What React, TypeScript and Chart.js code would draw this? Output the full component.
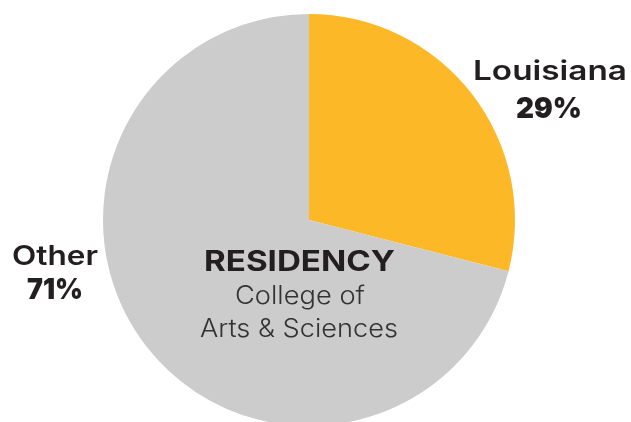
import React, { useEffect, useRef } from 'react';
import { Chart, registerables } from 'chart.js';
Chart.register(...registerables);

const categories = ['Louisiana', 'Other'];
const values = [29, 71];
const sliceColors = ['#FDB827', '#CCCCCC'];
const centerTitle = 'RESIDENCY';
const centerSubtitle = ['College of', 'Arts & Sciences'];

const FONT = 'Inter, "Open Sans", sans-serif';
const INK = '#231F20';

function drawFit(ctx: CanvasRenderingContext2D, text: string, cx: number, y: number, weight: number, size: number, width: number, color: string) {
  ctx.save();
  ctx.font = `${weight} ${size}px ${FONT}`;
  ctx.fillStyle = color;
  ctx.textAlign = 'center';
  ctx.textBaseline = 'alphabetic';
  const w = ctx.measureText(text).width;
  const sx = width / w;
  ctx.translate(cx, y);
  ctx.scale(sx, 1);
  ctx.fillText(text, 0, 0);
  ctx.restore();
}

const labelPlugin = {
  id: 'sliceLabels',
  afterDraw(chart: any) {
    const ctx = chart.ctx as CanvasRenderingContext2D;
    const total = values.reduce((a, b) => a + b, 0);
    const pct = values.map((v) => `${Math.round((v / total) * 100)}%`);
    // Louisiana
    drawFit(ctx, categories[0], 550, 80, 600, 27, 154, INK);
    drawFit(ctx, pct[0], 549, 118, 900, 29, 66, INK);
    // Other
    drawFit(ctx, categories[1], 55, 265, 600, 27, 86, INK);
    drawFit(ctx, pct[1], 55, 299, 900, 29, 56, INK);
    // Center
    drawFit(ctx, centerTitle, 299.5, 271, 700, 28, 191, INK);
    drawFit(ctx, centerSubtitle[0], 300, 304, 300, 25, 130, '#333333');
    drawFit(ctx, centerSubtitle[1], 299, 337, 300, 25, 198, '#333333');
  },
};

export default function App() {
  const ref = useRef<HTMLCanvasElement | null>(null);
  useEffect(() => {
    if (!ref.current) return;
    const chart = new Chart(ref.current, {
      type: 'pie',
      data: {
        labels: categories,
        datasets: [
          {
            data: values,
            backgroundColor: sliceColors,
            borderWidth: 0,
          },
        ],
      },
      options: {
        responsive: false,
        animation: false,
        radius: 206,
        layout: { padding: { left: 0, right: 13, top: 0, bottom: 0 } },
        plugins: {
          legend: { display: false },
          tooltip: { enabled: false },
        },
      },
      plugins: [labelPlugin],
    });
    return () => chart.destroy();
  }, []);
  return (
    <div style={{ position: 'fixed', left: 0, top: 0, width: 631, height: 422, overflow: 'hidden', background: '#fff' }}>
      <canvas ref={ref} width={631} height={440} style={{ display: 'block' }} />
    </div>
  );
}
